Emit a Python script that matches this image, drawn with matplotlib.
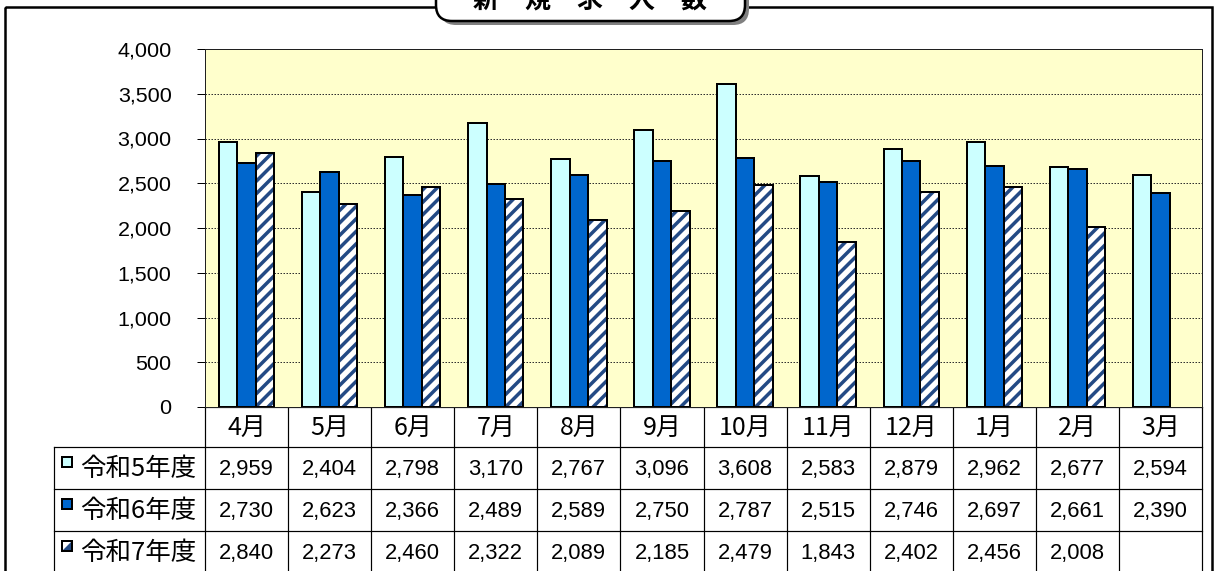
import numpy as np
import matplotlib
matplotlib.use("Agg")
import matplotlib.pyplot as plt
from matplotlib.patches import Rectangle, FancyBboxPatch, Polygon
from matplotlib.ticker import FuncFormatter

# データ（新規求人数）
months = ["4月", "5月", "6月", "7月", "8月", "9月", "10月", "11月", "12月", "1月", "2月", "3月"]
series_names = ["令和5年度", "令和6年度", "令和7年度"]
r5 = [2959, 2404, 2798, 3170, 2767, 3096, 3608, 2583, 2879, 2962, 2677, 2594]
r6 = [2730, 2623, 2366, 2489, 2589, 2750, 2787, 2515, 2746, 2697, 2661, 2390]
r7 = [2840, 2273, 2460, 2322, 2089, 2185, 2479, 1843, 2402, 2456, 2008, None]
title = "新　規　求　人　数"
unit_text = "（単位：人）"

DPI = 150
W, H = 1215, 571

def pt(px):
    # ピクセルをポイントに変換
    return px * 72 / DPI

JP = ["Noto Sans CJK JP", "DejaVu Sans"]
NUM = ["Liberation Sans", "Noto Sans CJK JP"]

c_r5 = "#CCFFFF"
c_r6 = "#0066CC"
c_hatch = "#234A85"
plt.rcParams["hatch.linewidth"] = pt(3.5)

fig = plt.figure(figsize=(W / DPI, H / DPI), dpi=DPI)

# 背景用の軸（ピクセル座標）
bg = fig.add_axes([0, 0, 1, 1])
bg.set_xlim(0, W)
bg.set_ylim(H, 0)
bg.axis("off")

# 外枠
bg.add_patch(Rectangle((5, 7), 1207, 620, fill=False, edgecolor="black", lw=pt(2.5), clip_on=False))

# タイトルボックス
bg.add_patch(FancyBboxPatch((440, -40), 309, 65, boxstyle="round,pad=0,rounding_size=16",
                            facecolor="#808080", edgecolor="none"))
bg.add_patch(FancyBboxPatch((436, -44), 309, 65, boxstyle="round,pad=0,rounding_size=16",
                            facecolor="white", edgecolor="black", lw=pt(2.5)))
bg.text(590, 0, title, ha="center", va="center", fontsize=pt(26), fontweight="bold", family=JP)
bg.text(935, -8, unit_text, ha="center", va="center", fontsize=pt(20), family=JP)

# グラフ本体
left, right, top, bottom = 205, 1202, 49, 407
ax = fig.add_axes([left / W, (H - bottom) / H, (right - left) / W, (bottom - top) / H])
ax.set_facecolor("#FFFFCC")
x = np.arange(len(months))
bw = 0.222
ax.bar(x - bw, r5, bw, color=c_r5, edgecolor="black", lw=pt(2), zorder=3)
ax.bar(x, r6, bw, color=c_r6, edgecolor="black", lw=pt(2), zorder=3)
x7 = [xi for xi, v in zip(x, r7) if v is not None]
v7 = [v for v in r7 if v is not None]
ax.bar(np.array(x7) + bw, v7, bw, color="white", edgecolor=c_hatch, hatch="////", lw=0, zorder=3)
ax.bar(np.array(x7) + bw, v7, bw, fill=False, edgecolor="black", lw=pt(2), zorder=4)

ax.set_xlim(-0.5, len(months) - 0.5)
ax.set_ylim(0, 4000)
ax.set_yticks(np.arange(0, 4001, 500))
ax.yaxis.set_major_formatter(FuncFormatter(lambda v, p: f"{int(v):,}"))
ax.set_xticks([])
ax.tick_params(axis="y", length=4, width=pt(1), direction="out", pad=pt(25), labelsize=pt(21.5))
for lab in ax.get_yticklabels():
    lab.set_family(NUM)
ax.yaxis.grid(True, linestyle=(0, (1.5, 1.5)), color="#303030", lw=pt(1))
ax.set_axisbelow(True)
for s in ax.spines.values():
    s.set_linewidth(pt(1))
    s.set_color("#202020")

# データテーブル
col_w = (right - left) / len(months)
hdr_top, hdr_bot = 407, 447
row_h = 42
tab_bot = hdr_bot + row_h * 3
lw_t = pt(1.2)
for k in range(len(months) + 1):
    xx = left + k * col_w
    bg.plot([xx, xx], [hdr_top, tab_bot], color="black", lw=lw_t, clip_on=False)
bg.plot([left, right], [hdr_top, hdr_top], color="black", lw=lw_t)
for r in range(4):
    yy = hdr_bot + r * row_h
    bg.plot([54, right], [yy, yy], color="black", lw=lw_t, clip_on=False)
bg.plot([54, 54], [hdr_bot, tab_bot], color="black", lw=lw_t, clip_on=False)

for i, m in enumerate(months):
    bg.text(left + (i + 0.5) * col_w, (hdr_top + hdr_bot) / 2 + 1, m,
            ha="center", va="center", fontsize=pt(25), family=JP)

rows = [r5, r6, r7]
for r, (name, vals) in enumerate(zip(series_names, rows)):
    yc = hdr_bot + (r + 0.5) * row_h
    # 凡例マーカー
    x0, y0, s = 62, yc - 11, 10
    if r == 0:
        bg.add_patch(Rectangle((x0, y0), s, s, facecolor=c_r5, edgecolor="black", lw=pt(2)))
    elif r == 1:
        bg.add_patch(Rectangle((x0, y0), s, s, facecolor=c_r6, edgecolor="black", lw=pt(2)))
    else:
        bg.add_patch(Rectangle((x0, y0), s, s, facecolor="white", edgecolor="none"))
        bg.add_patch(Polygon([(x0, y0 + s), (x0 + s, y0 + s), (x0 + s, y0)], closed=True,
                             facecolor=c_hatch, edgecolor="none"))
        bg.add_patch(Rectangle((x0, y0), s, s, fill=False, edgecolor="black", lw=pt(2)))
    bg.text(80, yc + 1, name, ha="left", va="center", fontsize=pt(25.5), family=JP)
    for i, v in enumerate(vals):
        if v is None:
            continue
        bg.text(left + (i + 0.5) * col_w, yc + 1, f"{v:,}", ha="center", va="center",
                fontsize=pt(22), family=NUM)

fig.savefig("out.png", dpi=DPI)
